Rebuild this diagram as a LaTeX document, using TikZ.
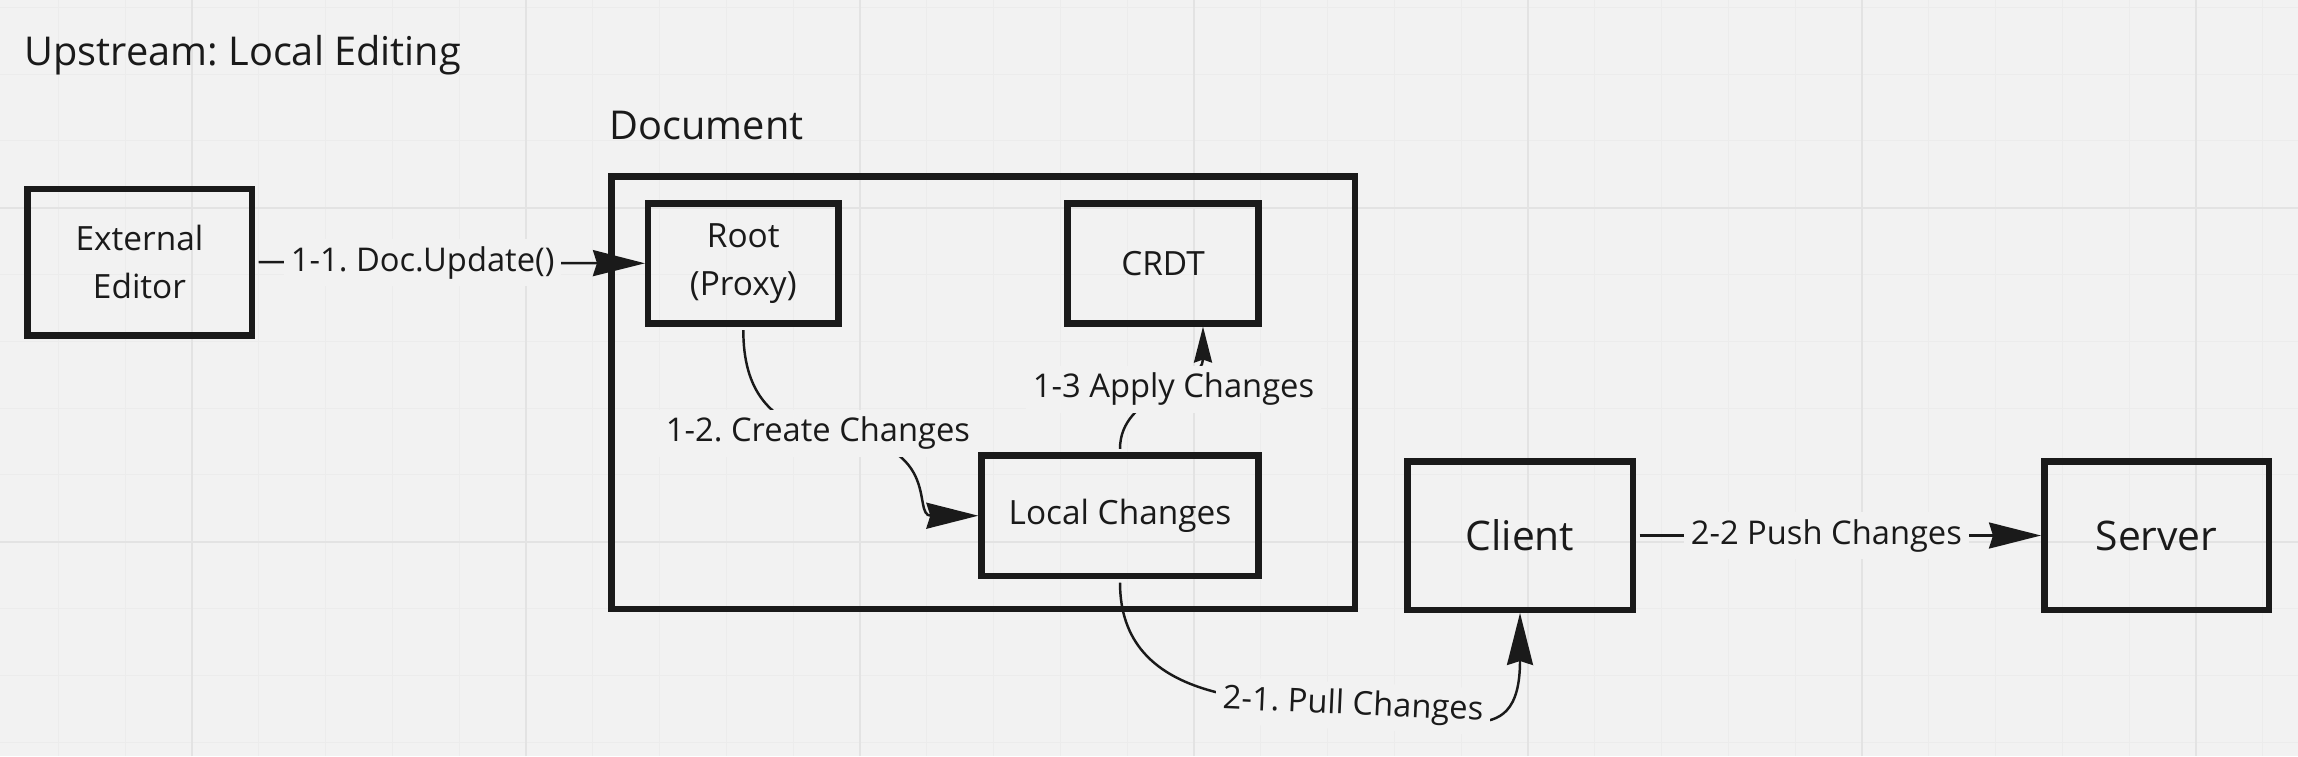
\documentclass[tikz,border=0pt]{standalone}
\usepackage{fontspec}
\setmainfont{Open Sans}
\usetikzlibrary{arrows.meta}
\frenchspacing
\definecolor{ink}{HTML}{1A1A1A}
\definecolor{bg}{HTML}{F2F2F2}
\definecolor{gridminor}{HTML}{ECECEC}
\definecolor{gridmajor}{HTML}{E3E3E3}
\begin{document}
\begin{tikzpicture}[
  box/.style={draw=ink,line width=1.85pt,text=ink,align=center,inner sep=0pt,font=\fontsize{9.5}{13.6}\selectfont},
  conn/.style={draw=ink,line width=0.7pt,shorten <=1pt,-{Stealth[length=5.2mm,width=2.6mm,inset=0.4mm]}},
  lbl/.style={fill=bg,text=ink,inner sep=2pt,font=\fontsize{9.3}{11}\selectfont},
  ttl/.style={text=ink,inner sep=0pt,anchor=base west,font=\fontsize{11.3}{13}\selectfont}]
 \useasboundingbox (0,0) rectangle (22.98,-7.56);
 \fill[bg] (0,0) rectangle (22.98,-7.56);
 \begin{scope}[shift={(1.92,-2.077)}]
 \draw[gridminor,line width=0.3pt,step=0.668] (-1.92,2.077) grid (21.06,-5.483);
 \draw[gridmajor,line width=0.6pt,step=3.34] (-1.92,2.077) grid (21.06,-5.483);
 \end{scope}
 \node[ttl] (title) at (0.24,-0.65) {Upstream: Local Editing};
 \node[ttl] (doclbl) at (6.09,-1.39) {Document};
 \node[box,minimum width=7.435cm,minimum height=4.325cm] (doc) at (9.83,-3.925) {};
 \node[box,minimum width=2.245cm,minimum height=1.465cm] (ext) at (1.395,-2.62) {External\\Editor};
 \node[box,minimum width=1.902cm,minimum height=1.2cm] (root) at (7.433,-2.633) {Root\\(Proxy)};
 \node[box,minimum width=1.909cm,minimum height=1.2cm] (crdt) at (11.63,-2.633) {CRDT};
 \node[box,minimum width=2.769cm,minimum height=1.202cm] (local) at (11.2,-5.157) {Local Changes};
 \node[box,minimum width=2.255cm,minimum height=1.485cm,font=\fontsize{11.6}{14}\selectfont] (client) at (15.2,-5.355) {Client};
 \node[box,minimum width=2.245cm,minimum height=1.485cm,font=\fontsize{11.6}{14}\selectfont] (server) at (21.565,-5.355) {Server};
 \draw[conn] (ext.east) -- node[lbl,pos=0.43]{1-1. Doc.Update()} (root.west);
 \draw[conn] (root.south) .. controls +(0,-0.65) and +(-0.48,0.13) .. (8.18,-4.332) node[lbl]{1-2. Create Changes} .. controls +(1.3,-0.05) and +(-0.68,0) .. (local.west);
 \draw[conn,-{Stealth[length=3.6mm,width=1.8mm,inset=0.3mm]}] (local.north) .. controls +(0,0.6) and +(0,-0.6) .. ([xshift=4mm]crdt.south) node[lbl,pos=0.5,xshift=1.2mm]{1-3 Apply Changes};
 \draw[conn] (local.south) .. controls +(0,-1.24) and +(-0.93,0.04) .. (13.53,-7.06) node[lbl,rotate=-2.5]{2-1. Pull Changes} .. controls +(0.93,-0.04) and +(0,-1.47) .. (client.south);
 \draw[conn] (client.east) -- node[lbl,pos=0.47]{2-2 Push Changes} (server.west);
\end{tikzpicture}
\end{document}
